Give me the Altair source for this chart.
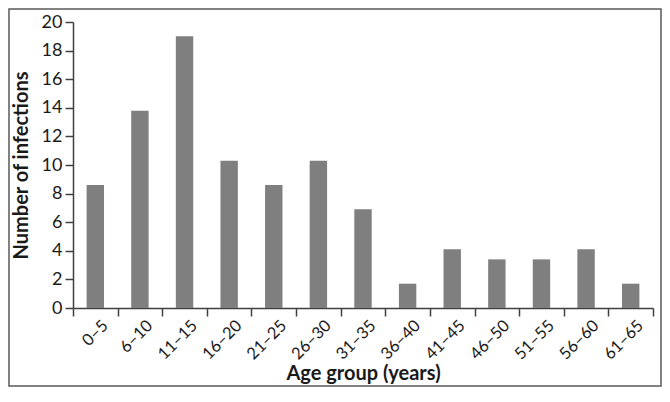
import altair as alt
import pandas as pd

age_groups = ["0–5", "6–10", "11–15", "16–20", "21–25", "26–30", "31–35",
              "36–40", "41–45", "46–50", "51–55", "56–60", "61–65"]
infections = [8.6, 13.8, 19.0, 10.3, 8.6, 10.3, 6.9, 1.7, 4.1, 3.4, 3.4, 4.1, 1.7]
y_ticks = [0, 2, 4, 6, 8, 10, 12, 14, 16, 18, 20]

df = pd.DataFrame({"age": age_groups, "n": infections})

FONT = "Lato"
AXIS_COLOR = "#404040"
TEXT_COLOR = "#1a1a1a"

bars = alt.Chart(df).mark_bar(color="#7f7f7f", width={"band": 0.39}).encode(
    x=alt.X("age:N", sort=age_groups,
            scale=alt.Scale(paddingInner=0, paddingOuter=0),
            axis=alt.Axis(title="Age group (years)", labelAngle=-45,
                          tickBand="extent", tickSize=8, labelPadding=1,
                          labelOffset=4,
                          labelFontSize=16.5, labelColor=TEXT_COLOR,
                          titleFontSize=20, titleFontWeight="bold",
                          titleColor=TEXT_COLOR,
                          titleY=65, titleBaseline="middle",
                          domainColor=AXIS_COLOR, tickColor=AXIS_COLOR,
                          domainWidth=1.5, tickWidth=1.5)),
    y=alt.Y("n:Q", scale=alt.Scale(domain=[0, 20], nice=False),
            axis=alt.Axis(title="Number of infections", values=y_ticks,
                          grid=False, tickSize=8, labelPadding=3,
                          labelFontSize=18, labelColor=TEXT_COLOR,
                          titleFontSize=20, titleFontWeight="bold",
                          titleColor=TEXT_COLOR,
                          titleX=-52, titleY=143, titleAlign="center",
                          titleBaseline="middle",
                          domainColor=AXIS_COLOR, tickColor=AXIS_COLOR,
                          domainWidth=1.5, tickWidth=1.5)),
)

frame = alt.Chart(pd.DataFrame({"k": [0]})).mark_rect(
    filled=False, stroke="#595959", strokeWidth=1.5, clip=False
).encode(
    x=alt.value(-64), x2=alt.value(588),
    y=alt.value(-13), y2=alt.value(364),
)

chart = alt.layer(bars, frame).properties(
    width=580, height=286,
    padding={"left": 65, "top": 14, "right": 9, "bottom": 80},
    autosize=alt.AutoSizeParams(type="none"),
).configure(font=FONT).configure_view(stroke=None)

chart.save("out.html", embed_options={"renderer": "svg", "actions": False})
